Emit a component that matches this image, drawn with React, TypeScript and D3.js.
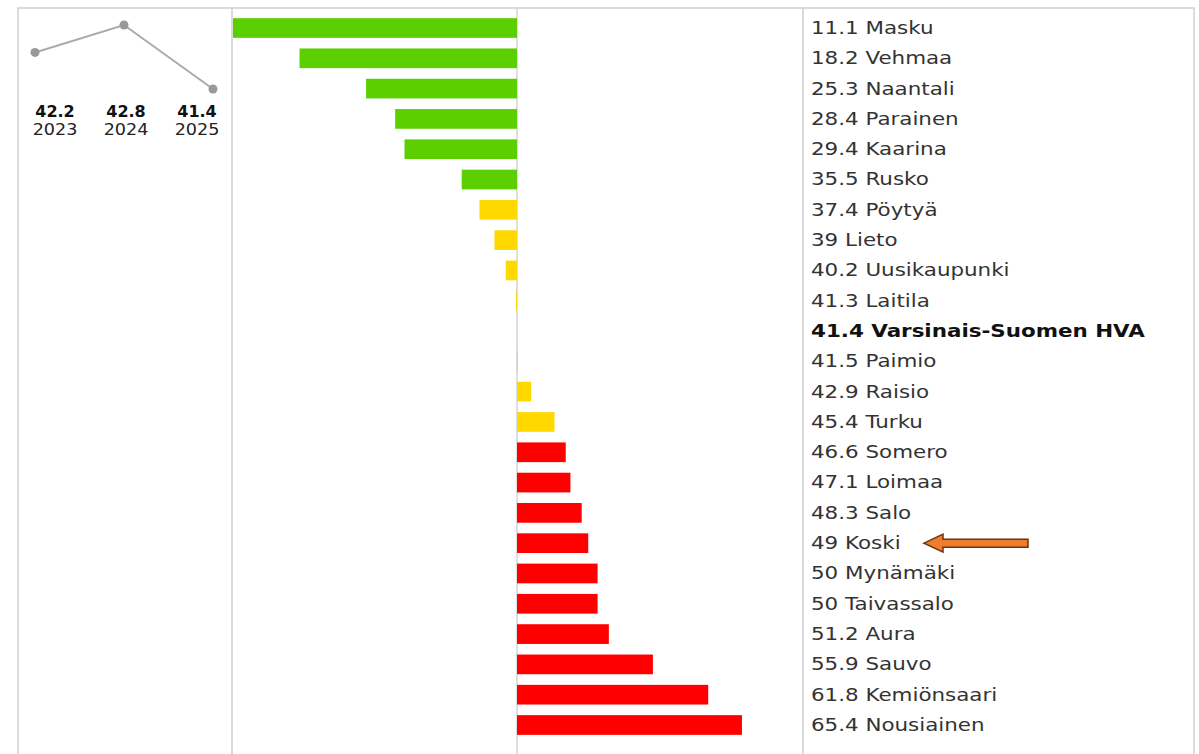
import {useEffect, useRef} from "react";
import * as d3 from "d3";

// municipalities, sorted by value
const names = [
  "Masku", "Vehmaa", "Naantali", "Parainen", "Kaarina", "Rusko", "Pöytyä", "Lieto",
  "Uusikaupunki", "Laitila", "Varsinais-Suomen HVA", "Paimio", "Raisio", "Turku",
  "Somero", "Loimaa", "Salo", "Koski", "Mynämäki", "Taivassalo", "Aura", "Sauvo",
  "Kemiönsaari", "Nousiainen"
];
const values = [
  11.1, 18.2, 25.3, 28.4, 29.4, 35.5, 37.4, 39, 40.2, 41.3, 41.4, 41.5, 42.9, 45.4,
  46.6, 47.1, 48.3, 49, 50, 50, 51.2, 55.9, 61.8, 65.4
];
const referenceName = "Varsinais-Suomen HVA";
const markedName = "Koski";

// trend of the reference area
const trendYears = ["2023", "2024", "2025"];
const trendValues = [42.2, 42.8, 41.4];

const W = 1199;
const H = 754;

const App = () => {
  const ref = useRef<SVGSVGElement>(null);

  useEffect(() => {
    const svg = d3.select(ref.current);
    svg.selectAll("*").remove();

    const font = "'DejaVu Sans', sans-serif";
    const refValue = values[names.indexOf(referenceName)];

    // outer frame and dividers
    const frame = {left: 18, top: 8, right: 1194, bottom: H + 2};
    svg.append("path")
      .attr("d", `M${frame.left},${frame.bottom}V${frame.top}H${frame.right}V${frame.bottom}`)
      .attr("fill", "none")
      .attr("stroke", "#cfcfcf")
      .attr("stroke-width", 1.5);
    svg.append("line")
      .attr("x1", 232).attr("x2", 232).attr("y1", frame.top).attr("y2", H)
      .attr("stroke", "#cfcfcf").attr("stroke-width", 1.5);
    svg.append("line")
      .attr("x1", 803).attr("x2", 803).attr("y1", frame.top).attr("y2", H)
      .attr("stroke", "#cfcfcf").attr("stroke-width", 1.5);

    // bars scale: centered on the reference value
    const span = refValue - d3.min(values)!;
    const x = d3.scaleLinear()
      .domain([refValue - span, refValue + span])
      .range([233, 801]);

    const y = d3.scaleBand<string>()
      .domain(names)
      .range([13, 740])
      .paddingInner(0.35)
      .paddingOuter(0.17);

    const color = (v: number) => v < 36 ? "#5ccf00" : v <= 46 ? "#ffd800" : "#ff0000";

    svg.append("line")
      .attr("x1", x(refValue)).attr("x2", x(refValue))
      .attr("y1", frame.top).attr("y2", H)
      .attr("stroke", "#d4d4d4").attr("stroke-width", 1.5);

    const rows = names.map((n, i) => ({name: n, value: values[i]}));

    svg.selectAll(".bar")
      .data(rows.filter(d => d.name !== referenceName))
      .enter()
      .append("rect")
      .attr("class", "bar")
      .attr("x", d => Math.min(x(d.value), x(refValue)))
      .attr("width", d => Math.abs(x(d.value) - x(refValue)))
      .attr("y", d => y(d.name)!)
      .attr("height", y.bandwidth())
      .attr("fill", d => color(d.value));

    // labels (the source renders them slightly stretched horizontally)
    svg.selectAll(".label")
      .data(rows)
      .enter()
      .append("text")
      .attr("class", "label")
      .attr("transform", d => `translate(811,${y(d.name)! + y.bandwidth() / 2}) scale(1.19,1)`)
      .attr("dominant-baseline", "central")
      .attr("font-family", font)
      .attr("font-size", 18)
      .attr("font-weight", d => d.name === referenceName ? "bold" : "normal")
      .attr("fill", d => d.name === referenceName ? "#111" : "#333")
      .text(d => `${d.value} ${d.name}`);

    // arrow pointing at the marked municipality
    const ay = y(markedName)! + y.bandwidth() / 2;
    const tip = 924, headEnd = 943, tail = 1028;
    svg.append("path")
      .attr("d", `M${tip},${ay}L${headEnd},${ay - 9}L${headEnd},${ay - 4}L${tail},${ay - 4}L${tail},${ay + 4}L${headEnd},${ay + 4}L${headEnd},${ay + 9}Z`)
      .attr("fill", "#ef7d2e")
      .attr("stroke", "#6e3510")
      .attr("stroke-width", 1.5);

    // trend sparkline
    const tx = d3.scalePoint<string>().domain(trendYears).range([35, 213]);
    const ty = d3.scaleLinear()
      .domain([d3.min(trendValues)!, d3.max(trendValues)!])
      .range([89, 25]);
    const trend = trendYears.map((yr, i) => ({year: yr, value: trendValues[i]}));

    const line = d3.line<{year: string, value: number}>()
      .x(d => tx(d.year)!)
      .y(d => ty(d.value));
    svg.append("path")
      .datum(trend)
      .attr("d", line)
      .attr("fill", "none")
      .attr("stroke", "#aaaaaa")
      .attr("stroke-width", 2);
    svg.selectAll(".dot")
      .data(trend)
      .enter()
      .append("circle")
      .attr("class", "dot")
      .attr("cx", d => tx(d.year)!)
      .attr("cy", d => ty(d.value))
      .attr("r", 4.5)
      .attr("fill", "#999999");

    const lx = d3.scalePoint<string>().domain(trendYears).range([55, 197]);
    svg.selectAll(".tval")
      .data(trend)
      .enter()
      .append("text")
      .attr("class", "tval")
      .attr("x", d => lx(d.year)!)
      .attr("y", 117)
      .attr("text-anchor", "middle")
      .attr("font-family", font)
      .attr("font-size", 16)
      .attr("font-weight", "bold")
      .attr("fill", "#111")
      .text(d => d.value.toFixed(1));
    svg.selectAll(".tyear")
      .data(trend)
      .enter()
      .append("text")
      .attr("class", "tyear")
      .attr("transform", d => `translate(${lx(d.year)!},135) scale(1.1,1)`)
      .attr("text-anchor", "middle")
      .attr("font-family", font)
      .attr("font-size", 16)
      .attr("fill", "#222")
      .text(d => d.year);
  }, []);

  return (
    <svg ref={ref} width={W} height={H}
      style={{position: "absolute", left: 0, top: 0, background: "#fff"}} />
  );
};

export default App;
